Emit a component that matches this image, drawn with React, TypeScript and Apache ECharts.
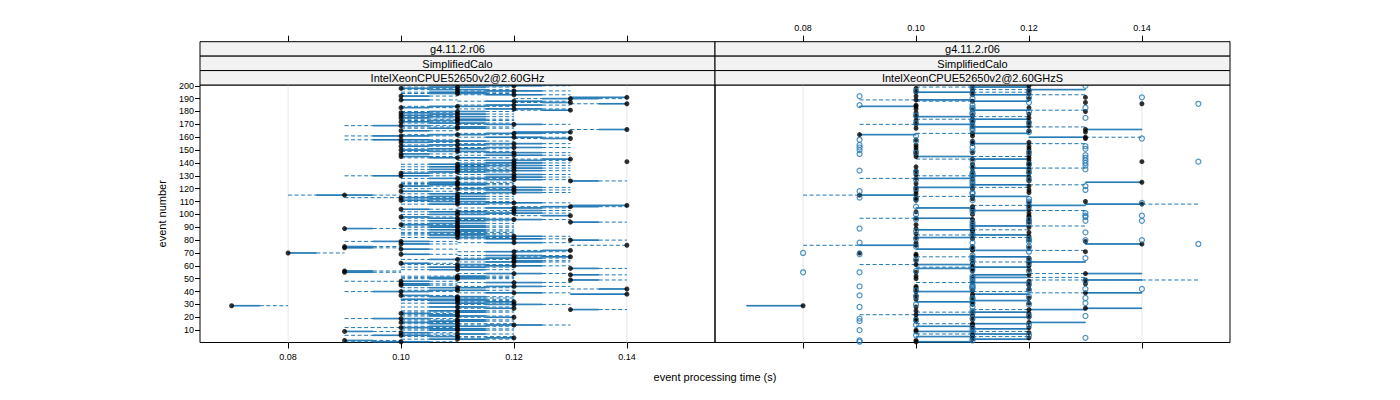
import React, { useEffect, useRef } from "react";
import * as echarts from "echarts";

// ---------------- data ----------------
const xTicks = [0.08, 0.1, 0.12, 0.14];
const yTicks = [10, 20, 30, 40, 50, 60, 70, 80, 90, 100, 110, 120, 130, 140, 150, 160, 170, 180, 190, 200];
const stripRow1 = ["g4.11.2.r06", "g4.11.2.r06"];
const stripRow2 = ["SimplifiedCalo", "SimplifiedCalo"];
const stripRow3 = ["IntelXeonCPUE52650v2@2.60GHz", "IntelXeonCPUE52650v2@2.60GHzS"];
const xTitle = "event processing time (s)";
const yTitle = "event number";

// Left panel: per event (1..200), values in hundredths of a second
const leftMin = [
  9, 9, 10, 11, 10, 9, 10, 10, 9, 10,
  10, 9, 10, 11, 10, 10, 10, 10, 9, 11,
  10, 10, 10, 10, 10, 13, 11, 10, 7, 11,
  10, 11, 10, 10, 11, 10, 10, 13, 11, 9,
  10, 13, 10, 11, 10, 10, 11, 9, 13, 10,
  10, 10, 13, 11, 9, 9, 10, 13, 10, 11,
  10, 10, 11, 12, 10, 11, 12, 11, 10, 8,
  11, 12, 10, 9, 9, 13, 10, 11, 9, 13,
  11, 10, 11, 10, 10, 10, 11, 10, 9, 10,
  10, 10, 10, 13, 10, 11, 10, 10, 12, 10,
  11, 10, 11, 10, 11, 12, 13, 10, 11, 10,
  10, 10, 9, 10, 8, 10, 11, 10, 11, 10,
  11, 10, 10, 10, 10, 13, 11, 10, 11, 9,
  11, 10, 10, 11, 10, 11, 10, 11, 10, 11,
  14, 11, 12, 10, 10, 11, 10, 11, 10, 10,
  10, 11, 10, 10, 11, 10, 10, 9, 12, 11,
  9, 10, 11, 12, 10, 13, 10, 10, 9, 11,
  10, 10, 10, 10, 10, 10, 10, 10, 10, 10,
  12, 11, 10, 10, 11, 13, 12, 11, 10, 12,
  13, 10, 11, 10, 10, 11, 10, 10, 10, 11,
];
const leftQ1 = [
  9.5, 9, 10.5, 11.5, 10.5, 9.5, 11, 10, 9, 10.5,
  10.5, 10, 10.5, 11.5, 10.5, 10, 10.5, 11, 9.5, 11.5,
  10.5, 10.5, 10, 11, 10.5, 13, 11.5, 10.5, 7, 11.5,
  10.5, 11.5, 10.5, 10, 11, 10.5, 10, 13, 11.5, 9.5,
  10.5, 13.5, 10.5, 11.5, 10, 10, 11.5, 10, 13, 10.5,
  10.5, 11, 13, 11.5, 9, 9, 10.5, 13, 10.5, 11.5,
  11, 10, 11.5, 12, 10.5, 11.5, 12.5, 11.5, 10, 8,
  11.5, 12.5, 10, 9, 9, 14, 10, 11.5, 9.5, 13,
  11.5, 10.5, 11.5, 10.5, 11, 10.5, 11, 10.5, 9, 10.5,
  10.5, 10, 10.5, 13, 10.5, 11.5, 10.5, 10, 12.5, 10.5,
  11.5, 10.5, 12, 10, 11.5, 12.5, 13, 10.5, 11.5, 10.5,
  10, 10.5, 10, 10.5, 8.5, 10.5, 11.5, 10, 11.5, 11,
  11.5, 10, 10.5, 10.5, 10.5, 13, 11.5, 10.5, 11.5, 9.5,
  11.5, 10, 10.5, 11.5, 10.5, 12, 10.5, 11.5, 10.5, 11.5,
  14, 11.5, 12.5, 10.5, 10, 11.5, 10, 11.5, 10.5, 10,
  10.5, 11.5, 10, 10.5, 11.5, 10, 10.5, 9.5, 12.5, 11.5,
  9.5, 10.5, 11.5, 12, 10, 13.5, 10.5, 11, 9.5, 11.5,
  10.5, 10, 10.5, 11, 10, 10.5, 10, 10.5, 10, 10.5,
  12.5, 11.5, 10, 10.5, 11.5, 13.5, 12.5, 11.5, 10, 12.5,
  13, 10, 11.5, 10.5, 10.5, 11.5, 10.5, 10, 10.5, 11.5,
];
const leftMed = [
  10, 9, 11, 12, 11, 10, 11, 10, 9, 11,
  11, 10, 11, 12, 11, 10, 11, 11, 10, 12,
  11, 11, 10, 11, 11, 13, 12, 11, 7, 12,
  11, 12, 11, 11, 11, 11, 10, 14, 12, 10,
  11, 14, 11, 12, 10, 10, 12, 10, 13, 11,
  11, 11, 13, 12, 9, 9, 11, 13, 11, 12,
  11, 10, 12, 12, 11, 12, 13, 12, 10, 8,
  12, 13, 10, 9, 9, 14, 10, 12, 10, 13,
  12, 11, 12, 11, 11, 11, 11, 11, 9, 11,
  11, 10, 11, 13, 11, 12, 11, 10, 13, 11,
  12, 11, 12, 10, 12, 13, 14, 11, 12, 11,
  10, 11, 10, 11, 9, 11, 12, 10, 12, 11,
  12, 10, 11, 11, 11, 13, 12, 11, 12, 10,
  12, 10, 11, 12, 11, 12, 11, 12, 11, 12,
  14, 12, 13, 11, 10, 12, 10, 12, 11, 10,
  11, 12, 10, 11, 12, 10, 11, 10, 13, 12,
  10, 11, 12, 13, 10, 14, 11, 11, 10, 12,
  11, 10, 11, 11, 10, 11, 10, 11, 10, 11,
  13, 12, 10, 11, 12, 14, 13, 12, 10, 13,
  14, 10, 12, 11, 11, 12, 11, 10, 11, 12,
];
const leftQ3 = [
  10.5, 9.5, 11.5, 12, 11, 10.5, 11.5, 10.5, 9.5, 11.5,
  11.5, 10.5, 11.5, 12.5, 11, 10.5, 11.5, 11.5, 10.5, 12,
  11.5, 11, 10.5, 11.5, 11.5, 13.5, 12, 11.5, 7.5, 12.5,
  11.5, 12, 11.5, 11.5, 11, 11.5, 10.5, 14, 12.5, 10.5,
  11.5, 14, 11.5, 12.5, 10.5, 10.5, 12.5, 10.5, 13.5, 11.5,
  11.5, 11.5, 13.5, 12.5, 9.5, 9.5, 11.5, 13.5, 11.5, 12.5,
  11.5, 10.5, 12.5, 12.5, 11.5, 12.5, 13, 12.5, 10.5, 8.5,
  12.5, 13, 10.5, 9.5, 9.5, 14, 10.5, 12.5, 10.5, 13.5,
  12.5, 11.5, 12.5, 11.5, 11.5, 11, 11.5, 11.5, 9.5, 11.5,
  11.5, 10.5, 11.5, 13.5, 11.5, 12.5, 11.5, 10.5, 13, 11.5,
  12.5, 11.5, 12.5, 10.5, 12.5, 13.5, 14, 11.5, 12.5, 11.5,
  10.5, 11.5, 10.5, 11.5, 9.5, 11.5, 12.5, 10.5, 12.5, 11.5,
  12.5, 10.5, 11.5, 11.5, 11, 13.5, 12.5, 11.5, 12.5, 10.5,
  12.5, 10.5, 11.5, 12.5, 11.5, 12.5, 11.5, 12.5, 11.5, 12.5,
  14, 12.5, 13, 11.5, 10.5, 12.5, 10.5, 12.5, 11.5, 10.5,
  11.5, 12.5, 10.5, 11.5, 12.5, 10.5, 11.5, 10.5, 13, 12.5,
  10.5, 11.5, 12.5, 13, 10.5, 14, 11.5, 11.5, 10.5, 12.5,
  11.5, 10.5, 11.5, 11.5, 10.5, 11.5, 10.5, 11.5, 10.5, 11.5,
  13, 12.5, 10.5, 11.5, 12.5, 14, 13, 12.5, 10.5, 13.5,
  14, 10.5, 12.5, 11.5, 11.5, 12.5, 11.5, 10.5, 11.5, 12.5,
];
const leftMax = [
  11, 10, 12, 12, 12, 11, 12, 11, 10, 12,
  12, 11, 12, 13, 12, 11, 12, 12, 11, 12,
  12, 11, 11, 12, 12, 14, 12, 12, 8, 13,
  12, 12, 12, 12, 12, 12, 11, 14, 13, 11,
  12, 14, 12, 13, 11, 11, 13, 11, 14, 12,
  12, 12, 14, 13, 10, 10, 12, 14, 12, 13,
  12, 11, 13, 13, 12, 13, 13, 13, 11, 9,
  13, 13, 11, 10, 10, 14, 11, 13, 11, 14,
  13, 12, 13, 12, 12, 12, 12, 12, 10, 12,
  12, 11, 12, 14, 12, 13, 12, 11, 13, 12,
  13, 12, 13, 11, 13, 14, 14, 12, 13, 12,
  11, 12, 11, 12, 10, 12, 13, 11, 13, 12,
  13, 11, 12, 12, 12, 14, 13, 12, 13, 11,
  13, 11, 12, 13, 12, 13, 12, 13, 12, 13,
  14, 13, 13, 12, 11, 13, 11, 13, 12, 11,
  12, 13, 11, 12, 13, 11, 12, 11, 13, 13,
  11, 12, 13, 13, 11, 14, 12, 12, 11, 13,
  12, 11, 12, 12, 11, 12, 11, 12, 11, 12,
  13, 13, 11, 12, 13, 14, 13, 13, 11, 14,
  14, 11, 13, 12, 12, 13, 12, 11, 12, 13,
];

// Right panel: per event (1..200), values in hundredths of a second
const rightMin = [
  10, 10, 11, 12, 10, 11, 10, 12, 10, 10,
  11, 12, 10, 11, 10, 12, 10, 11, 10, 11,
  11, 9, 12, 10, 10, 11, 13, 10, 7, 11,
  12, 10, 11, 10, 12, 11, 10, 11, 12, 10,
  11, 12, 10, 10, 12, 13, 10, 12, 12, 10,
  11, 10, 11, 12, 10, 11, 12, 10, 10, 12,
  9, 11, 11, 10, 11, 12, 10, 10, 10, 9,
  13, 11, 10, 12, 11, 8, 13, 10, 13, 12,
  11, 10, 12, 10, 10, 12, 11, 10, 10, 12,
  11, 10, 11, 12, 12, 11, 9, 12, 12, 11,
  12, 10, 11, 12, 10, 11, 11, 13, 12, 13,
  10, 11, 10, 10, 8, 10, 12, 10, 12, 11,
  10, 12, 11, 10, 13, 12, 11, 9, 12, 10,
  10, 12, 11, 10, 12, 11, 10, 12, 11, 12,
  14, 12, 10, 12, 10, 12, 10, 11, 12, 10,
  12, 10, 12, 10, 11, 12, 11, 10, 13, 12,
  11, 9, 10, 13, 12, 13, 10, 11, 12, 9,
  11, 12, 10, 10, 12, 10, 11, 12, 10, 13,
  11, 10, 12, 9, 10, 14, 13, 10, 9, 12,
  13, 10, 11, 12, 10, 11, 11, 10, 10, 12,
];
const rightQ1 = [
  10, 10, 11, 12, 10, 11, 11, 12, 10, 10,
  11, 12, 10, 11, 11, 12, 10, 11, 10, 11,
  11, 10, 12, 11, 10, 12, 13, 10, 7, 11,
  12, 10, 11, 10, 12, 11, 10, 11, 13, 10,
  11, 12, 10, 10, 12, 13, 11, 12, 13, 10,
  11, 10, 11, 13, 10, 11, 12, 10, 11, 12,
  10, 11, 12, 10, 11, 12, 11, 10, 10, 9,
  13, 11, 10, 12, 11, 9, 13, 10, 13, 12,
  11, 10, 12, 11, 10, 12, 11, 10, 10, 12,
  11, 10, 11, 12, 12, 11, 10, 12, 12, 11,
  12, 10, 11, 12, 10, 11, 12, 13, 12, 13,
  10, 11, 10, 11, 9, 10, 12, 10, 12, 11,
  10, 12, 11, 10, 13, 12, 11, 10, 12, 11,
  10, 12, 11, 10, 12, 11, 10, 12, 11, 12,
  14, 12, 11, 12, 10, 12, 10, 11, 12, 10,
  12, 10, 12, 10, 11, 12, 11, 10, 13, 12,
  11, 9, 11, 13, 12, 13, 10, 11, 12, 10,
  11, 12, 10, 11, 12, 10, 11, 12, 10, 13,
  11, 10, 12, 9, 10, 14, 13, 11, 10, 12,
  13, 10, 11, 12, 10, 11, 12, 10, 11, 12,
];
const rightMed = [
  10, 10, 11, 12, 11, 11, 11, 12, 10, 10,
  11, 12, 11, 11, 11, 12, 10, 11, 10, 12,
  11, 10, 12, 11, 10, 12, 13, 10, 8, 11,
  12, 11, 11, 10, 12, 11, 10, 11, 13, 10,
  11, 12, 10, 10, 12, 13, 11, 12, 13, 10,
  11, 10, 12, 13, 10, 11, 12, 11, 11, 12,
  10, 11, 12, 10, 11, 12, 11, 10, 10, 9,
  13, 11, 11, 12, 11, 10, 14, 10, 13, 12,
  11, 10, 12, 11, 10, 12, 11, 11, 10, 12,
  11, 10, 11, 12, 12, 11, 10, 12, 12, 11,
  12, 10, 11, 12, 11, 11, 12, 14, 12, 13,
  10, 11, 10, 11, 9, 10, 12, 10, 12, 11,
  10, 12, 11, 10, 14, 12, 11, 10, 12, 11,
  10, 12, 11, 10, 12, 11, 10, 12, 11, 12,
  14, 12, 11, 12, 10, 12, 10, 11, 12, 10,
  12, 10, 12, 10, 11, 12, 11, 10, 13, 13,
  11, 9, 11, 13, 12, 13, 10, 11, 12, 10,
  11, 12, 10, 11, 12, 10, 11, 12, 10, 13,
  11, 10, 12, 10, 10, 14, 13, 11, 10, 12,
  13, 10, 11, 12, 10, 11, 12, 10, 11, 12,
];
const rightQ3 = [
  11, 10, 12, 12, 11, 11, 12, 12, 11, 10,
  12, 12, 11, 11, 12, 13, 10, 11, 10, 12,
  11, 11, 12, 12, 10, 13, 14, 10, 8, 11,
  12, 11, 12, 10, 12, 11, 10, 12, 14, 11,
  11, 12, 10, 10, 12, 13, 12, 12, 14, 10,
  12, 10, 12, 14, 10, 11, 12, 11, 12, 12,
  11, 11, 13, 10, 11, 12, 12, 10, 10, 9,
  13, 12, 11, 12, 11, 10, 14, 10, 13, 12,
  11, 11, 12, 12, 10, 12, 11, 11, 10, 12,
  12, 10, 11, 12, 12, 11, 11, 12, 12, 11,
  12, 10, 12, 12, 11, 11, 13, 14, 12, 13,
  10, 11, 10, 12, 10, 10, 12, 10, 12, 11,
  11, 12, 12, 10, 14, 12, 11, 11, 12, 12,
  10, 12, 11, 10, 12, 12, 10, 12, 11, 12,
  14, 12, 12, 12, 11, 12, 10, 11, 12, 10,
  12, 10, 12, 10, 12, 12, 11, 10, 13, 13,
  11, 10, 12, 13, 12, 14, 10, 12, 12, 11,
  11, 12, 10, 12, 12, 11, 11, 12, 10, 13,
  12, 10, 12, 10, 10, 14, 13, 12, 11, 12,
  13, 10, 12, 12, 11, 11, 13, 10, 12, 12,
];
const rightMax = [
  11, 10, 12, 12, 12, 11, 12, 12, 12, 10,
  12, 12, 11, 11, 12, 13, 10, 11, 10, 12,
  11, 11, 12, 12, 10, 13, 14, 10, 8, 11,
  12, 11, 12, 10, 12, 11, 10, 12, 14, 12,
  11, 12, 10, 10, 12, 13, 12, 12, 15, 10,
  13, 10, 12, 14, 10, 11, 12, 11, 12, 12,
  11, 11, 13, 10, 11, 12, 12, 10, 10, 9,
  13, 13, 11, 12, 11, 10, 14, 10, 13, 12,
  11, 12, 12, 12, 10, 12, 11, 12, 10, 12,
  13, 10, 11, 12, 12, 11, 11, 12, 12, 11,
  12, 10, 13, 12, 11, 11, 13, 15, 12, 13,
  10, 11, 10, 12, 10, 10, 12, 10, 12, 11,
  12, 12, 13, 10, 14, 12, 11, 11, 12, 12,
  10, 12, 11, 10, 12, 13, 10, 12, 11, 12,
  14, 12, 12, 12, 12, 12, 10, 11, 12, 10,
  12, 10, 12, 10, 13, 12, 11, 10, 13, 14,
  11, 10, 12, 13, 12, 14, 10, 13, 12, 11,
  11, 12, 10, 12, 12, 12, 11, 12, 10, 13,
  13, 10, 12, 10, 10, 14, 13, 12, 11, 12,
  13, 10, 13, 12, 12, 11, 13, 10, 12, 12,
];
// Right panel outliers: [event, value in hundredths of a second]
const rightOutliers = [
  [1, 9], [2, 9], [2, 11], [4, 11], [4, 13], [6, 10], [6, 12], [8, 11], [10, 9], [10, 11],
  [12, 11], [14, 10], [14, 12], [17, 9], [18, 10], [19, 9], [19, 11], [21, 12], [21, 13], [23, 11],
  [25, 11], [28, 9], [28, 11], [30, 10], [30, 12], [31, 11], [31, 13], [34, 11], [35, 11], [35, 13],
  [36, 10], [36, 12], [37, 9], [41, 10], [41, 12], [42, 11], [42, 13], [42, 14], [43, 11], [44, 9],
  [44, 11], [45, 11], [46, 12], [48, 11], [48, 13], [50, 11], [52, 11], [55, 8], [55, 9], [56, 10],
  [56, 12], [57, 11], [60, 11], [62, 12], [64, 11], [65, 10], [65, 12], [66, 11], [66, 13], [68, 11],
  [69, 9], [70, 8], [71, 12], [74, 11], [75, 10], [75, 12], [77, 15], [78, 9], [78, 11], [79, 12],
  [80, 13], [80, 14], [81, 10], [81, 12], [83, 11], [85, 11], [86, 13], [87, 10], [89, 9], [90, 11],
  [92, 11], [93, 12], [94, 11], [95, 13], [95, 14], [96, 10], [96, 12], [98, 13], [99, 13], [99, 14],
  [100, 10], [101, 13], [102, 11], [104, 11], [106, 10], [106, 12], [109, 14], [110, 12], [111, 11], [112, 10],
  [112, 12], [113, 9], [116, 11], [117, 11], [118, 9], [119, 13], [120, 10], [122, 11], [122, 13], [124, 11],
  [126, 11], [127, 10], [127, 12], [129, 11], [131, 11], [132, 11], [133, 10], [133, 12], [134, 9], [135, 13],
  [137, 11], [138, 13], [139, 12], [140, 13], [141, 15], [142, 11], [142, 13], [144, 13], [146, 13], [147, 9],
  [148, 10], [148, 12], [149, 11], [150, 9], [151, 13], [152, 9], [152, 11], [153, 13], [154, 9], [156, 11],
  [157, 10], [158, 9], [159, 14], [161, 10], [164, 12], [165, 11], [167, 11], [169, 11], [171, 10], [171, 12],
  [172, 11], [173, 11], [175, 13], [177, 10], [178, 11], [179, 11], [180, 12], [182, 11], [183, 11], [183, 13],
  [185, 9], [185, 11], [186, 15], [187, 12], [190, 11], [191, 12], [191, 14], [192, 9], [194, 11], [196, 10],
  [196, 12], [198, 11], [200, 11], [200, 13],
];

// ---------------- layout / style ----------------
const FONT = "'Liberation Sans', Arial, Helvetica, sans-serif";
const BLUE = "#1f77b4";
const X_MIN = 0.0644;
const X_MAX = 0.1556;
const Y_MIN = 0.4;
const Y_MAX = 200.6;
const PANEL_TOP = 85;
const PANEL_H = 257.5;
const PANEL_W = 515;
const PANEL_LEFT = [200, 715];
const STRIP_TOP = 41.7;
const STRIP_H = (PANEL_TOP - STRIP_TOP) / 3;

function boxRows(mins: number[], q1s: number[], meds: number[], q3s: number[], maxs: number[]) {
  return meds.map((m, i) => [i + 1, mins[i] / 100, q1s[i] / 100, m / 100, q3s[i] / 100, maxs[i] / 100]);
}

function boxSeries(idx: number, rows: number[][]) {
  return {
    type: "custom",
    xAxisIndex: idx,
    yAxisIndex: idx,
    silent: true,
    z: 3,
    data: rows,
    encode: { x: [1, 2, 3, 4, 5], y: 0 },
    renderItem: (_params: any, api: any) => {
      const e = api.value(0);
      const pMin = api.coord([api.value(1), e]);
      const pQ1 = api.coord([api.value(2), e]);
      const pQ3 = api.coord([api.value(4), e]);
      const pMax = api.coord([api.value(5), e]);
      const h = Math.abs(api.size([0, 0.5])[1]);
      const dash = { stroke: BLUE, lineWidth: 1, lineDash: [4, 2.5] };
      const children: any[] = [];
      if (pQ1[0] - pMin[0] > 0.1) {
        children.push({ type: "line", shape: { x1: pMin[0], y1: pMin[1], x2: pQ1[0], y2: pQ1[1] }, style: dash });
      }
      if (pMax[0] - pQ3[0] > 0.1) {
        children.push({ type: "line", shape: { x1: pQ3[0], y1: pQ3[1], x2: pMax[0], y2: pMax[1] }, style: dash });
      }
      children.push({
        type: "rect",
        shape: { x: pQ1[0], y: pQ1[1] - h / 2, width: Math.max(pQ3[0] - pQ1[0], 0), height: h },
        style: { fill: "none", stroke: BLUE, lineWidth: 1 },
      });
      return { type: "group", children };
    },
  };
}

function gridLineSeries(idx: number) {
  return {
    type: "custom",
    xAxisIndex: idx,
    yAxisIndex: idx,
    silent: true,
    z: 1,
    data: xTicks.map((v) => [v, Y_MIN]),
    encode: { x: 0, y: 1 },
    renderItem: (params: any, api: any) => {
      const p = api.coord([api.value(0), Y_MIN]);
      const cs = params.coordSys;
      return {
        type: "line",
        shape: { x1: p[0], y1: cs.y, x2: p[0], y2: cs.y + cs.height },
        style: { stroke: "#e6e6e6", lineWidth: 1 },
      };
    },
  };
}

function medianSeries(idx: number, meds: number[]) {
  return {
    type: "scatter",
    xAxisIndex: idx,
    yAxisIndex: idx,
    silent: true,
    z: 4,
    symbol: "circle",
    symbolSize: 5,
    itemStyle: { color: "#000000" },
    data: meds.map((m, i) => [m / 100, i + 1]),
  };
}

function xAxisDef(gridIndex: number, position: string, showLabel: boolean, offset: number, margin: number) {
  return {
    type: "value",
    gridIndex,
    position,
    offset,
    min: X_MIN,
    max: X_MAX,
    axisLine: { show: false },
    splitLine: { show: false },
    axisTick: { show: true, inside: false, length: 6, customValues: xTicks, lineStyle: { color: "#000", width: 1 } },
    axisLabel: {
      show: showLabel,
      customValues: xTicks,
      formatter: (v: number) => v.toFixed(2),
      fontFamily: FONT,
      fontSize: 9,
      color: "#000",
      margin,
    },
  };
}

function yAxisDef(gridIndex: number, show: boolean) {
  return {
    type: "value",
    gridIndex,
    min: Y_MIN,
    max: Y_MAX,
    axisLine: { show: false },
    splitLine: { show: false },
    axisTick: { show, inside: false, length: 5, customValues: yTicks, lineStyle: { color: "#000", width: 1 } },
    axisLabel: { show, customValues: yTicks, fontFamily: FONT, fontSize: 9, color: "#000", margin: 6 },
  };
}

function stripGraphics() {
  const rows = [stripRow1, stripRow2, stripRow3];
  const els: any[] = [];
  for (let p = 0; p < 2; p++) {
    for (let r = 0; r < 3; r++) {
      const y = STRIP_TOP + r * STRIP_H;
      els.push({
        type: "rect",
        shape: { x: PANEL_LEFT[p], y, width: PANEL_W, height: STRIP_H },
        style: { fill: "#f2f2f2", stroke: "#000", lineWidth: 1 },
        z: 10,
      });
      els.push({
        type: "text",
        x: PANEL_LEFT[p] + PANEL_W / 2,
        y: y + STRIP_H / 2 + 0.5,
        style: { text: rows[r][p], fontFamily: FONT, fontSize: 11, fill: "#000", align: "center", verticalAlign: "middle" },
        z: 11,
      });
    }
  }
  els.push({
    type: "text",
    x: 715,
    y: 377,
    style: { text: xTitle, fontFamily: FONT, fontSize: 11, fill: "#000", align: "center", verticalAlign: "middle" },
  });
  els.push({
    type: "text",
    x: 162,
    y: PANEL_TOP + PANEL_H / 2,
    rotation: Math.PI / 2,
    style: { text: yTitle, fontFamily: FONT, fontSize: 11, fill: "#000", align: "center", verticalAlign: "middle" },
  });
  return els;
}

export default function App() {
  const ref = useRef<HTMLDivElement>(null);

  useEffect(() => {
    if (!ref.current) return;
    const chart = echarts.init(ref.current, undefined, { renderer: "svg" });
    const gridDef = (left: number) => ({
      left,
      top: PANEL_TOP,
      width: PANEL_W,
      height: PANEL_H,
      show: true,
      borderColor: "#000",
      borderWidth: 1,
      backgroundColor: "transparent",
      containLabel: false,
    });
    const option: any = {
      animation: false,
      backgroundColor: "#ffffff",
      textStyle: { fontFamily: FONT },
      grid: [gridDef(PANEL_LEFT[0]), gridDef(PANEL_LEFT[1])],
      xAxis: [
        xAxisDef(0, "bottom", true, 0, 10),
        xAxisDef(1, "bottom", false, 0, 10),
        xAxisDef(0, "top", false, PANEL_TOP - STRIP_TOP, 9),
        xAxisDef(1, "top", true, PANEL_TOP - STRIP_TOP, 9),
      ],
      yAxis: [yAxisDef(0, true), yAxisDef(1, false)],
      graphic: stripGraphics(),
      series: [
        gridLineSeries(0),
        gridLineSeries(1),
        boxSeries(0, boxRows(leftMin, leftQ1, leftMed, leftQ3, leftMax)),
        boxSeries(1, boxRows(rightMin, rightQ1, rightMed, rightQ3, rightMax)),
        medianSeries(0, leftMed),
        medianSeries(1, rightMed),
        {
          type: "scatter",
          xAxisIndex: 1,
          yAxisIndex: 1,
          silent: true,
          z: 5,
          symbol: "circle",
          symbolSize: 5,
          itemStyle: { color: "rgba(255,255,255,0)", borderColor: BLUE, borderWidth: 1.2 },
          data: rightOutliers.map(([e, v]) => [v / 100, e]),
        },
      ],
    };
    chart.setOption(option);
    return () => chart.dispose();
  }, []);

  return (
    <div
      ref={ref}
      style={{ position: "absolute", left: 0, top: 0, width: 1400, height: 400, background: "#fff" }}
    />
  );
}
